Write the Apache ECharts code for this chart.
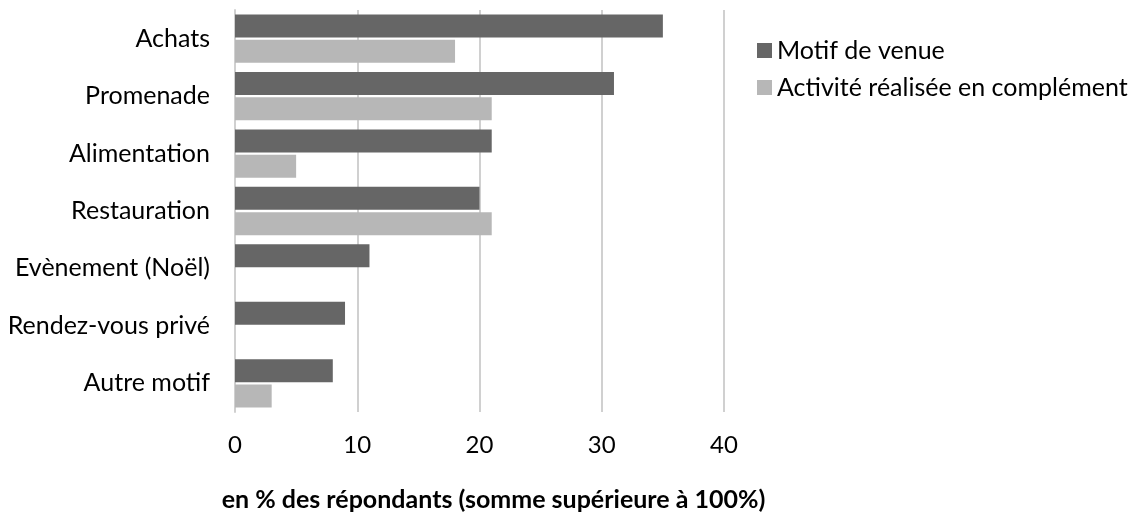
<!DOCTYPE html>
<html>
<head>
<meta charset="utf-8">
<script src="https://cdn.jsdelivr.net/npm/echarts@6/dist/echarts.min.js"></script>
<style>html,body{margin:0;padding:0;background:#fff}#c{width:1136px;height:517px}</style>
</head>
<body>
<div id="c"></div>
<script>
const categories = ['Achats', 'Promenade', 'Alimentation', 'Restauration', 'Evènement (Noël)', 'Rendez-vous privé', 'Autre motif'];
const motifDeVenue = [35, 31, 21, 20, 11, 9, 8];
const activiteComplement = [18, 21, 5, 21, 0, 0, 3];
const xTicks = [0, 10, 20, 30, 40];
const seriesNames = ['Motif de venue', 'Activité réalisée en complément'];

const font = 'Lato, "Open Sans", sans-serif';
const chart = echarts.init(document.getElementById('c'));
chart.setOption({
  animation: false,
  backgroundColor: '#fff',
  grid: { left: 235, right: 412, top: 10, bottom: 99, containLabel: false },
  legend: {
    orient: 'vertical',
    left: 757, top: 38, padding: 0,
    itemWidth: 15, itemHeight: 15, itemGap: 12,
    icon: 'rect',
    textStyle: { fontFamily: font, fontSize: 25, color: '#000' },
    data: seriesNames
  },
  xAxis: {
    type: 'value', min: xTicks[0], max: xTicks[xTicks.length - 1], interval: 10,
    name: 'en % des répondants (somme supérieure à 100%)',
    nameLocation: 'middle', nameGap: 75,
    nameTextStyle: { fontFamily: font, fontSize: 25, fontWeight: 'bold', color: '#000', padding: [0, 0, 0, 28] },
    axisLine: { show: false }, axisTick: { show: false },
    axisLabel: { fontFamily: font, fontSize: 24, color: '#000', margin: 21 },
    splitLine: { show: true, lineStyle: { color: '#d0d0d0', width: 2 } }
  },
  yAxis: {
    type: 'category', data: categories, inverse: true,
    axisLine: { show: true, lineStyle: { color: '#d0d0d0', width: 2 } },
    axisTick: { show: false },
    axisLabel: { fontFamily: font, fontSize: 25, color: '#000', margin: 25 }
  },
  series: [
    { name: seriesNames[0], type: 'bar', data: motifDeVenue, barWidth: 23, barGap: '10%',
      itemStyle: { color: '#666666' } },
    { name: seriesNames[1], type: 'bar', data: activiteComplement, barWidth: 23,
      itemStyle: { color: '#b7b7b7' } }
  ]
});
</script>
</body>
</html>
